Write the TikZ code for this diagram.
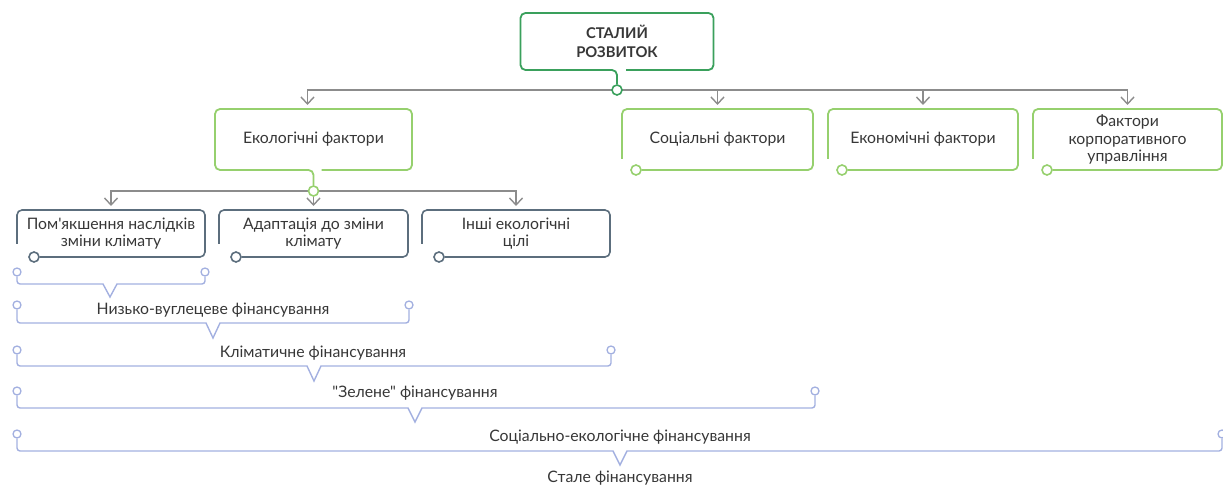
\documentclass[tikz,border=0pt]{standalone}
\usepackage{fontspec}
\setmainfont{Lato}[Ligatures=TeXOff]
\usetikzlibrary{arrows.meta,calc,backgrounds}
\definecolor{dgreen}{RGB}{58,160,92}
\definecolor{lgreen}{RGB}{150,208,110}
\definecolor{slate}{RGB}{92,110,125}
\definecolor{cgray}{RGB}{140,140,140}
\definecolor{lav}{RGB}{163,176,224}
\definecolor{txt}{RGB}{55,55,55}
\begin{document}
\begin{tikzpicture}[x=1pt,y=-1pt,
  box/.style={inner sep=0pt,outer sep=0pt,align=center,text=txt,font=\fontsize{15.8}{17.5}\selectfont},
  lbl/.style={inner sep=0pt,text=txt,font=\fontsize{15.8}{17.5}\selectfont},
  gcirc/.style={circle,draw=dgreen,fill=white,line width=1.6pt,minimum size=10pt,inner sep=0pt},
  lcirc/.style={circle,draw=lgreen,fill=white,line width=1.6pt,minimum size=10pt,inner sep=0pt},
  scirc/.style={circle,draw=slate,fill=white,line width=1.6pt,minimum size=10pt,inner sep=0pt},
  bcirc/.style={circle,draw=lav,fill=white,line width=1.3pt,minimum size=8pt,inner sep=0pt},
  dline/.style={draw=dgreen,line width=1.8pt,rounded corners=5pt},
  lline/.style={draw=lgreen,line width=1.8pt,rounded corners=5pt},
  sline/.style={draw=slate,line width=1.6pt,rounded corners=5pt},
  bline/.style={draw=lav,line width=1.4pt},
  gl/.style={draw=cgray,line width=1.4pt},
  arr/.style={-{Straight Barb[length=7pt,width=13pt,line width=1.4pt]},shorten >=4pt},
]
\useasboundingbox (0,0) rectangle (1223,486);

% ---- top box
\node[box,minimum width=193pt,minimum height=57pt,font=\bfseries\fontsize{14.8}{19}\selectfont] (top) at (617,41.5) {СТАЛИЙ\\РОЗВИТОК};
\node[gcirc] (c0) at (617,90) {};
\draw[dline] ($(top.south)+(9,0)$) -- (top.south east) -- (top.north east) -- (top.north west) -- (top.south west) -- (top.south) -- (c0);

% ---- factor boxes
\node[box,minimum width=197pt,minimum height=61pt] (eco) at (313.5,139.5) {Екологічні фактори};
\node[box,minimum width=191pt,minimum height=61pt] (soc) at (717.5,139.5) {Соціальні фактори};
\node[box,minimum width=190pt,minimum height=61pt] (econ) at (923,139.5) {Економічні фактори};
\node[box,minimum width=189pt,minimum height=61pt] (corp) at (1127.5,139.5) {Фактори\\корпоративного\\управління};

\node[lcirc] (c1) at (313.5,191) {};
\draw[lline] ($(eco.south)+(8,0)$) -- (eco.south east) -- (eco.north east) -- (eco.north west) -- (eco.south west) -- (eco.south) -- (c1);

\foreach \b in {soc,econ,corp}{
  \node[lcirc] (\b c) at ($(\b.south west)+(14,0)$) {};
  \draw[lline] ($(\b.south west)+(0,-11)$) -- (\b.north west) -- (\b.north east) -- (\b.south east) -- (\b c);
}

% ---- sub boxes
\node[box,minimum width=188pt,minimum height=47pt] (pom) at (111,233.5) {Пом'якшення наслідків\\зміни клімату};
\node[box,minimum width=189pt,minimum height=47pt] (adapt) at (313.5,233.5) {Адаптація до зміни\\клімату};
\node[box,minimum width=188pt,minimum height=47pt] (inshi) at (516,233.5) {Інші екологічні\\цілі};
\foreach \b in {pom,adapt,inshi}{
  \node[scirc] (\b c) at ($(\b.south west)+(17,0)$) {};
  \draw[sline] ($(\b.south west)+(0,-13)$) -- (\b.north west) -- (\b.north east) -- (\b.south east) -- (\b c);
}

% ---- connectors (behind circles)
\begin{scope}[on background layer]
\draw[gl,arr] (c0.center) -| ([xshift=-6pt]eco.north);
\draw[gl,arr] (c0.center) -| (soc.north);
\draw[gl,arr] (c0.center) -| (econ.north);
\draw[gl,arr] (c0.center) -| (corp.north);
\draw[gl,arr] (c1.center) -| (pom.north);
\draw[gl,arr] (c1.center) -- (adapt.north);
\draw[gl,arr] (c1.center) -| (inshi.north);
\end{scope}

% ---- braces
\foreach \i/\yc/\yh/\xn/\xr/\yd in {1/272/284/110/205/13, 2/305/323/213/409/15, 3/350/366/314/611/15, 4/391/408/415/815/14, 5/434/451/620/1222/14}{
  \node[bcirc] (b\i l) at (17,\yc) {};
  \node[bcirc] (b\i r) at (\xr,\yc) {};
  \coordinate (v\i) at (\xn,\yh+\yd);
  \draw[bline] (b\i l.south) [rounded corners=3pt] -- (17,\yh) [sharp corners] -- (\xn-7,\yh) -- (v\i) -- (\xn+7,\yh) [rounded corners=3pt] -- (\xr,\yh) -- (b\i r.south);
}
\node[lbl] (l1) at (213,310) {Низько-вуглецеве фінансування};
\node[lbl] (l2) at (313,353) {Кліматичне фінансування};
\node[lbl] (l3) at (415,393) {"Зелене" фінансування};
\node[lbl] (l4) at (620,437) {Соціально-екологічне фінансування};
\node[lbl] (l5) at (620,478) {Стале фінансування};
\end{tikzpicture}
\end{document}
